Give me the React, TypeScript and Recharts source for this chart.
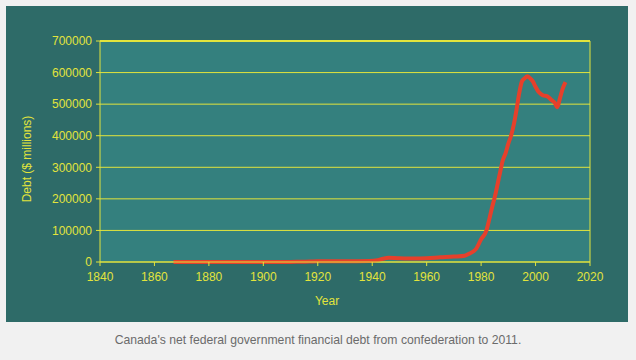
import { LineChart, Line, XAxis, YAxis, CartesianGrid, ReferenceLine, Label } from 'recharts'

// Canada's net federal debt, $ millions
const years = [
  1867, 1890, 1910, 1914, 1917, 1920, 1930, 1939, 1942, 1944, 1946, 1950, 1955, 1960, 1965, 1970,
  1974, 1976, 1978, 1980, 1982, 1983, 1984, 1985, 1987, 1988, 1989, 1990, 1991, 1992, 1993, 1994,
  1995, 1996, 1997, 1998, 1999, 2000, 2001, 2002, 2003, 2004, 2005, 2006, 2007, 2008, 2009, 2010, 2011
]
const debt = [
  76, 240, 340, 544, 1200, 2340, 2180, 3150, 6000, 10500, 13400, 11600, 11300, 12100, 14800, 17200,
  20000, 28000, 40000, 72000, 101000, 135000, 172000, 205000, 285000, 323000, 345000, 375000, 400000, 435000, 482000, 535000,
  572000, 582000, 588000, 582000, 572000, 555000, 540000, 532000, 527000, 526000, 520000, 512000, 505000, 490000, 520000, 550000, 570000
]
const xTicks = [1840, 1860, 1880, 1900, 1920, 1940, 1960, 1980, 2000, 2020]
const yTicks = [0, 100000, 200000, 300000, 400000, 500000, 600000, 700000]

const data = years.map((year, i) => ({ year, debt: debt[i] }))

const YELLOW = '#e2e43c'
const FONT = '"Liberation Sans", Arial, sans-serif'
const tickStyle = { fill: YELLOW, fontSize: 12, fontFamily: FONT }

export default function App() {
  return (
    <div style={{ position: 'absolute', left: 0, top: 0, width: 636, height: 360, background: '#f1f1f1' }}>
      <div style={{ position: 'absolute', left: 6, top: 6, width: 622, height: 316, background: '#2e6b68' }}>
        <LineChart width={622} height={316} data={data} margin={{ top: 35, right: 38, bottom: 10, left: 24 }}>
          <CartesianGrid vertical={false} stroke={YELLOW} fill="#34807e" fillOpacity={1} />
          <XAxis
            dataKey="year"
            type="number"
            domain={[1840, 2020]}
            ticks={xTicks}
            stroke={YELLOW}
            tickSize={4}
            tickMargin={6}
            tick={tickStyle}
            height={50}
          >
            <Label
              content={(props: any) => {
                const vb = props.viewBox
                return (
                  <text x={327 - 6} y={vb.y + 43} textAnchor="middle" fill={YELLOW} fontSize={12}
                    fontFamily={FONT}>Year</text>
                )
              }}
            />
          </XAxis>
          <YAxis
            domain={[0, 700000]}
            ticks={yTicks}
            stroke={YELLOW}
            tickSize={4}
            tickMargin={4}
            tick={tickStyle}
            width={70}
          >
            <Label
              content={() => (
                <text x={21} y={153} transform="rotate(-90 21 153)" textAnchor="middle" dominantBaseline="central"
                  fill={YELLOW} fontSize={12} fontFamily={FONT}>Debt ($ millions)</text>
              )}
            />
          </YAxis>
          <ReferenceLine y={700000} stroke={YELLOW} strokeWidth={2} />
          <ReferenceLine x={2020} stroke={YELLOW} />
          <Line
            type="monotone"
            dataKey="debt"
            stroke="#e6402b"
            strokeWidth={4}
            strokeLinejoin="round"
            dot={false}
            isAnimationActive={false}
          />
        </LineChart>
      </div>
      <div style={{
        position: 'absolute', left: 0, top: 333, width: 636, textAlign: 'center',
        fontFamily: FONT, fontSize: 12.2, color: '#6b6b6b'
      }}>
        Canada's net federal government financial debt from confederation to 2011.
      </div>
    </div>
  )
}
